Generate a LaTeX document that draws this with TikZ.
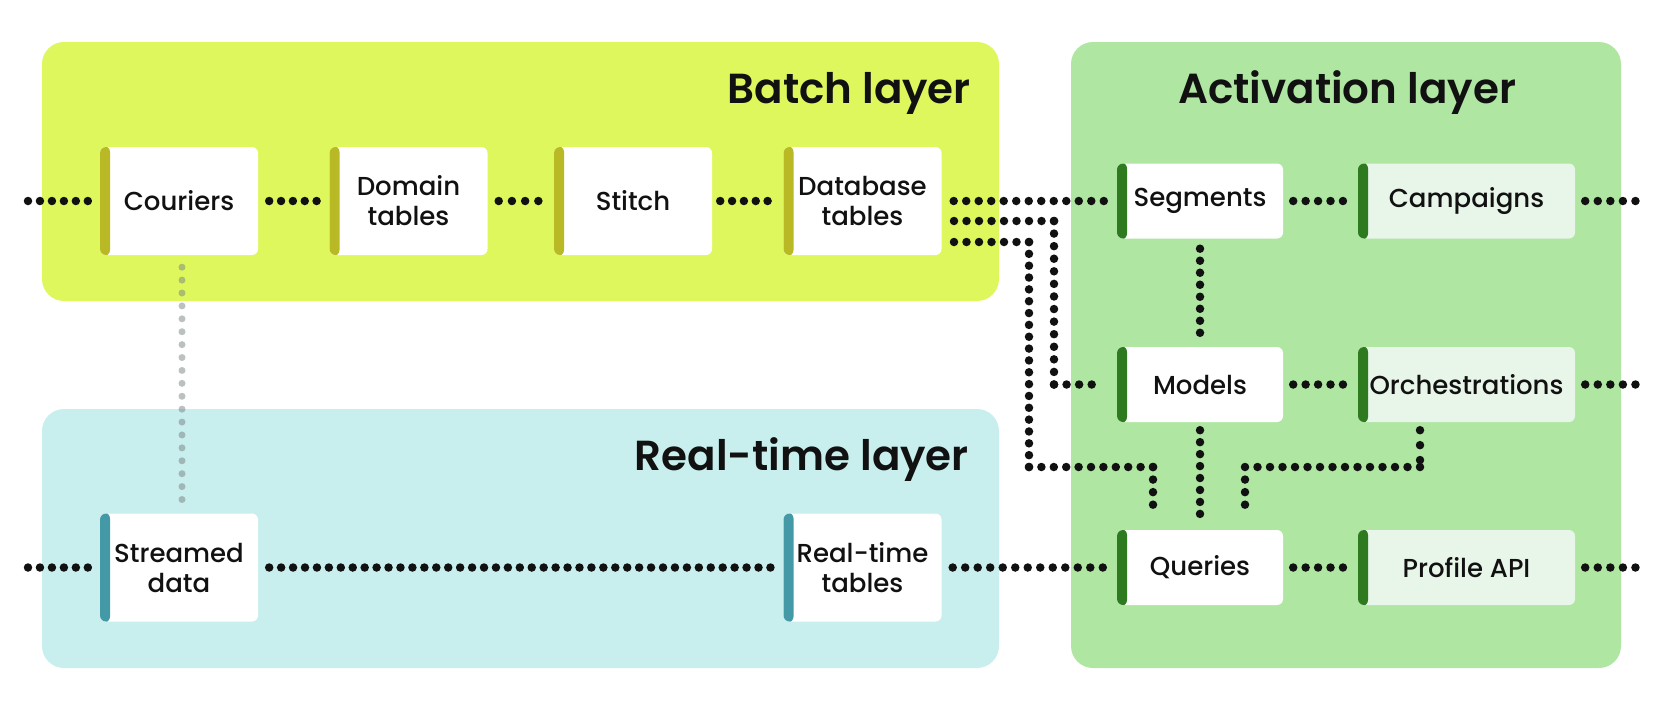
\documentclass[tikz,border=0pt]{standalone}
\usepackage{fontspec}
\setmainfont{Poppins}
\newfontfamily\boxfont{Poppins Medium}
\newfontfamily\titlefont{Poppins SemiBold}
\usetikzlibrary{decorations}
\definecolor{batchbg}{HTML}{DEF75C}
\definecolor{batchacc}{HTML}{B8B924}
\definecolor{rtbg}{HTML}{C8EFED}
\definecolor{rtacc}{HTML}{4499A6}
\definecolor{actbg}{HTML}{AEE6A2}
\definecolor{actacc}{HTML}{2E7A1E}
\definecolor{lightcard}{HTML}{E8F5E9}
\definecolor{ink}{HTML}{111111}
\definecolor{fadedot}{HTML}{788282}
\tikzset{
  panel/.style={rounded corners=22pt, inner sep=0pt, draw=none},
  title/.style={font=\titlefont\fontsize{42}{50}\selectfont, text=ink, inner sep=0pt},
  card/.style={rounded corners=6pt, inner sep=0pt, align=center, text=ink,
    font=\boxfont\fontsize{26}{30}\selectfont},
  bigcard/.style={card, minimum width=158pt, minimum height=108pt},
  smallcard/.style={card, minimum width=166pt, minimum height=75pt},
  widecard/.style={card, minimum width=217pt, minimum height=75pt},
  accent/.style={path picture={\fill[#1] ([xshift=-1pt,yshift=-1pt]path picture bounding box.south west) rectangle ([xshift=10pt,yshift=1pt]path picture bounding box.north west);}},
  bcard/.style={bigcard, fill=white, accent=batchacc},
  rcard/.style={bigcard, fill=white, accent=rtacc},
  acard/.style={smallcard, fill=white, accent=actacc},
  lcard/.style={widecard, fill=lightcard, accent=actacc},
  dots/.style={draw=ink, line width=8.5pt, line cap=round, dash pattern=on 0pt off 11.8pt, dash expand off},
  link/.style={dots, shorten <=11pt, shorten >=11pt},
  fadedots/.style={draw=fadedot, draw opacity=0.5, line width=7pt, line cap=round, dash pattern=on 0pt off 12.3pt, dash expand off},
}
\begin{document}
\begin{tikzpicture}[x=1pt,y=-1pt]
\useasboundingbox (0,0) rectangle (1667,710);
% panels
\node[panel, fill=batchbg, minimum width=957pt, minimum height=259pt] (batch) at (520.5,171.5) {};
\node[panel, fill=rtbg, minimum width=957pt, minimum height=259pt] (realtime) at (520.5,538.5) {};
\node[panel, fill=actbg, minimum width=550pt, minimum height=626pt] (activation) at (1346,355) {};
% titles
\node[title, anchor=base east] (bt) at (971,103) {Batch layer};
\node[title, anchor=base east] (rtt-title) at (969,470) {Real-time layer};
\node[title, anchor=base] (at) at (1347,103) {Activation layer};
% cards
\node[bcard] (couriers) at (179,201) {Couriers};
\node[bcard] (domain) at (408.5,201) {Domain\\tables};
\node[bcard] (stitch) at (633,201) {Stitch};
\node[bcard] (db) at (862.5,201) {Database\\tables};
\node[rcard] (streamed) at (179,567.5) {Streamed\\data};
\node[rcard] (rtt) at (862.5,567.5) {Real-time\\tables};
\node[acard] (seg) at (1200,201) {Segments};
\node[acard] (models) at (1200,384.5) {Models};
\node[acard] (queries) at (1200,567.5) {Queries};
\node[lcard] (camp) at (1466.5,201) {Campaigns};
\node[lcard] (orch) at (1466.5,384.5) {Orchestrations};
\node[lcard] (papi) at (1466.5,567.5) {Profile API};
% free ends and corners
\coordinate (bl) at (28,201);
\coordinate (rl) at (28,567.5);
\coordinate (cr) at (1638,201);
\coordinate (orr) at (1638,384.5);
\coordinate (pr) at (1638,567.5);
\coordinate (d2) at (954,221);
\coordinate (k2a) at (1054,221);
\coordinate (k2b) at (1054,384.5);
\coordinate (d3) at (954,242);
\coordinate (k3a) at (1029,242);
\coordinate (k3b) at (1029,467);
\coordinate (k3c) at (1153,467);
\coordinate (q1) at ([xshift=-47pt]queries.north);
\coordinate (o1) at ([xshift=-46.5pt]orch.south);
\coordinate (k4a) at (1420,467);
\coordinate (k4b) at (1245,467);
\coordinate (q2) at ([xshift=45pt]queries.north);
% faded link
\draw[fadedots, shorten <=12pt, shorten >=8pt] ([xshift=3pt]couriers.south) -- ([xshift=3pt]streamed.north);
% batch row
\draw[dots, shorten >=9pt] (bl) -- (couriers.west);
\draw[link] (couriers) -- (domain);
\draw[link] (domain) -- (stitch);
\draw[dots, shorten <=8pt, shorten >=7pt] (stitch) -- (db);
\draw[dots, shorten <=12pt, shorten >=13pt] (db.east) -- (seg.west);
\draw[dots] (d2) -- (k2a);
\draw[dots] (k2a) -- (k2b);
\draw[dots, shorten >=13pt] (k2b) -- (models.west);
\draw[dots] (d3) -- (k3a);
\draw[dots] (k3a) -- (k3b);
\draw[dots] (k3b) -- (k3c);
\draw[dots, shorten >=13pt] (k3c) -- (q1);
% real-time row
\draw[dots, shorten >=9pt] (rl) -- (streamed.west);
\draw[link] (streamed) -- (rtt);
\draw[dots, shorten <=11pt, shorten >=13pt] (rtt) -- (queries);
% activation
\draw[dots, shorten <=10pt, shorten >=10pt] (seg) -- (models);
\draw[dots, shorten <=8pt, shorten >=13pt] (models) -- (queries);
\draw[dots, shorten <=8pt] (o1) -- (k4a);
\draw[dots] (k4a) -- (k4b);
\draw[dots, shorten >=13pt] (k4b) -- (q2);
\draw[dots, shorten <=10pt, shorten >=11pt] (seg) -- (camp);
\draw[dots, shorten <=10pt, shorten >=11pt] (models) -- (orch);
\draw[dots, shorten <=10pt, shorten >=11pt] (queries) -- (papi);
\draw[dots, shorten <=10pt] (camp) -- (cr);
\draw[dots, shorten <=10pt] (orch) -- (orr);
\draw[dots, shorten <=10pt] (papi) -- (pr);
\end{tikzpicture}
\end{document}
